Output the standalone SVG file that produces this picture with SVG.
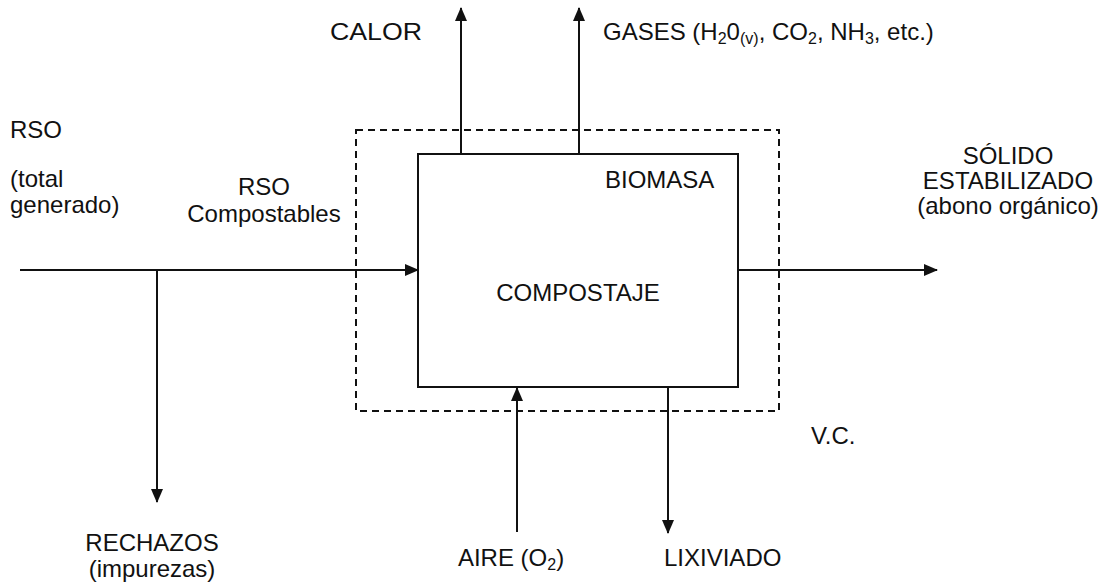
<svg xmlns="http://www.w3.org/2000/svg" width="1111" height="586" viewBox="0 0 1111 586">
<style>
text{font-family:"Liberation Sans",Arial,sans-serif;font-size:24px;fill:#111}
.ln{stroke:#111;stroke-width:2;fill:none}
.sub{font-size:16px}
</style>
<defs>
<marker id="ah" viewBox="0 0 14 12" refX="13" refY="6" markerWidth="14" markerHeight="12" markerUnits="userSpaceOnUse" orient="auto">
<path d="M0,0 L14,6 L0,12 Z" fill="#111"/>
</marker>
</defs>
<rect width="1111" height="586" fill="#fff"/>
<g id="vc">
<rect x="356" y="130" width="423" height="281" fill="none" stroke="#111" stroke-width="2" stroke-dasharray="7,5"/>
<text x="811" y="444">V.C.</text>
</g>
<g id="compostaje">
<rect x="418" y="154" width="320" height="233" fill="none" stroke="#111" stroke-width="2"/>
<text x="605" y="188">BIOMASA</text>
<text x="578" y="301" text-anchor="middle">COMPOSTAJE</text>
</g>
<g id="connectors">
<line class="ln" x1="20" y1="270" x2="418" y2="270" marker-end="url(#ah)"/>
<line class="ln" x1="157" y1="270" x2="157" y2="502" marker-end="url(#ah)"/>
<line class="ln" x1="461" y1="154" x2="461" y2="8" marker-end="url(#ah)"/>
<line class="ln" x1="579" y1="154" x2="579" y2="8" marker-end="url(#ah)"/>
<line class="ln" x1="738" y1="270" x2="937" y2="270" marker-end="url(#ah)"/>
<line class="ln" x1="517" y1="532" x2="517" y2="388" marker-end="url(#ah)"/>
<line class="ln" x1="668" y1="387" x2="668" y2="533" marker-end="url(#ah)"/>
</g>
<g id="rso">
<text x="10" y="138">RSO<tspan x="10" y="187">(total</tspan><tspan x="10" y="213">generado)</tspan></text>
</g>
<g id="rso-compostables">
<text x="264" y="195" text-anchor="middle">RSO<tspan x="264" y="222">Compostables</tspan></text>
</g>
<g id="calor"><text x="330" y="40" textLength="92" lengthAdjust="spacingAndGlyphs">CALOR</text></g>
<g id="gases"><text x="603" y="40">GASES (H<tspan class="sub" dy="4">2</tspan><tspan dy="-4">0</tspan><tspan class="sub" dy="4">(v)</tspan><tspan dy="-4">, CO</tspan><tspan class="sub" dy="4">2</tspan><tspan dy="-4">, NH</tspan><tspan class="sub" dy="4">3</tspan><tspan dy="-4">, etc.)</tspan></text></g>
<g id="solido">
<text x="1008" y="164" text-anchor="middle">SÓLIDO<tspan x="1008" y="189">ESTABILIZADO</tspan><tspan x="1008" y="214">(abono orgánico)</tspan></text>
</g>
<g id="rechazos">
<text x="152" y="551" text-anchor="middle">RECHAZOS<tspan x="152" y="577">(impurezas)</tspan></text>
</g>
<g id="aire"><text x="511" y="566" text-anchor="middle">AIRE (O<tspan class="sub" dy="4">2</tspan><tspan dy="-4">)</tspan></text></g>
<g id="lixiviado"><text x="664" y="566">LIXIVIADO</text></g>
</svg>
